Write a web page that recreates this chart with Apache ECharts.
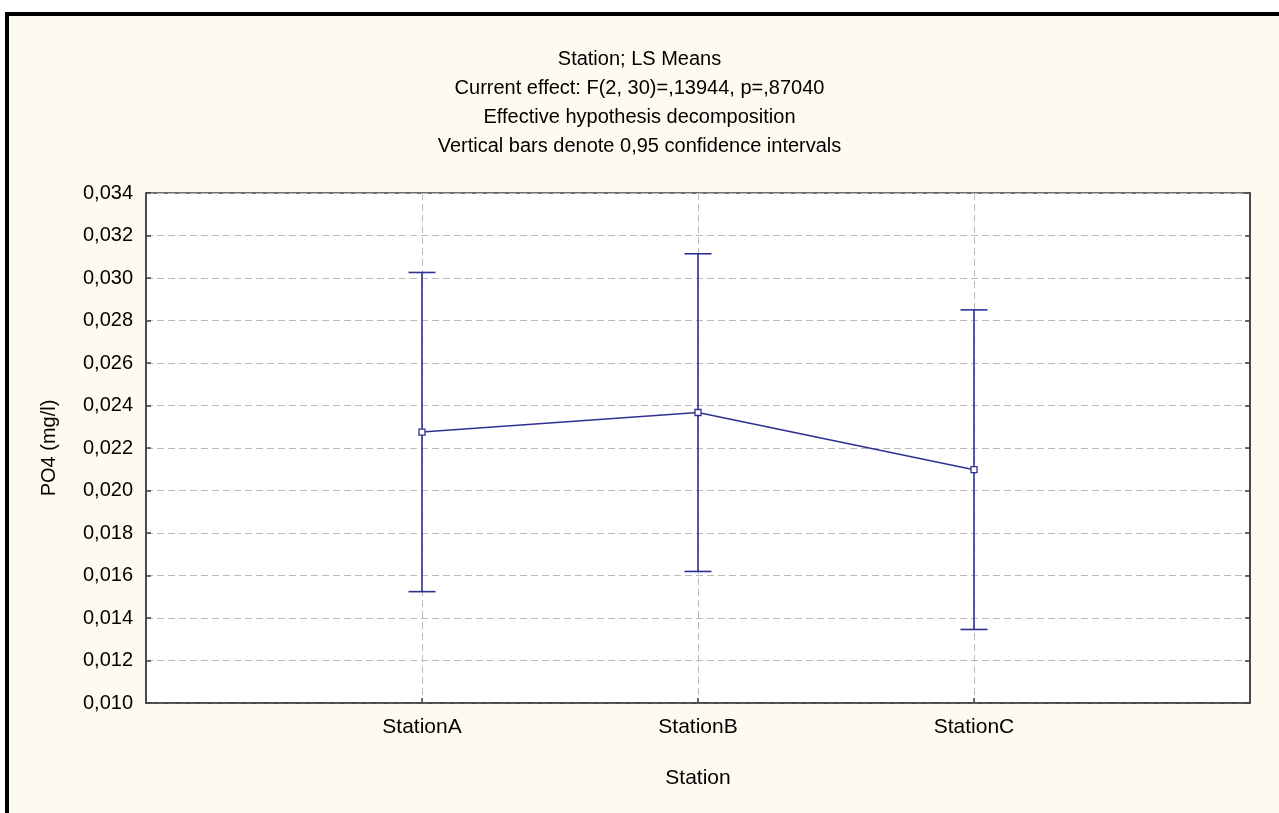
<!DOCTYPE html>
<html>
<head>
<meta charset="utf-8">
<script src="https://cdn.jsdelivr.net/npm/echarts@6/dist/echarts.min.js"></script>
<style>
html,body{margin:0;padding:0;background:#ffffff;}
#chart{width:1279px;height:813px;}
</style>
</head>
<body>
<div id="chart"></div>
<script>
// ---- data ----
var categories = ['StationA', 'StationB', 'StationC'];
var means = [0.02275, 0.02367, 0.02098];
var lowerCI = [0.01524, 0.01619, 0.01346];
var upperCI = [0.03026, 0.03114, 0.02850];
var yTicks = { min: 0.010, max: 0.034, step: 0.002 };
var titleLines = [
  'Station; LS Means',
  'Current effect: F(2, 30)=,13944, p=,87040',
  'Effective hypothesis decomposition',
  'Vertical bars denote 0,95 confidence intervals'
];
var yName = 'PO4 (mg/l)';
var xName = 'Station';

// ---- build ----
var axisCats = [''].concat(categories).concat(['']);
var navy = '#2E3192';
var font = 'Liberation Sans, Arial, sans-serif';

var lineData = categories.map(function (c, i) { return [c, means[i]]; });
var errData = categories.map(function (c, i) { return [c, lowerCI[i], upperCI[i]]; });

var chart = echarts.init(document.getElementById('chart'), null, { renderer: 'canvas' });

function fmt(v) { return v.toFixed(3).replace('.', ','); }
function showCat(index, value) { return value !== ''; }

var titles = titleLines.map(function (t, i) {
  return {
    text: t,
    left: 'center',
    top: 49 + i * 29,
    padding: 0,
    textStyle: { fontFamily: font, fontSize: 20, fontWeight: 'normal', color: '#000' }
  };
});

var option = {
  backgroundColor: '#ffffff',
  animation: false,
  graphic: [
    { type: 'rect', shape: { x: 9, y: 16, width: 1270, height: 797 }, style: { fill: '#FFFAEF' }, z: -10, silent: true },
    { type: 'rect', shape: { x: 5, y: 12, width: 1274, height: 4 }, style: { fill: '#000000' }, z: -9, silent: true },
    { type: 'rect', shape: { x: 5, y: 12, width: 4, height: 801 }, style: { fill: '#000000' }, z: -9, silent: true }
  ],
  title: titles,
  grid: {
    left: 146, right: 29, top: 193, bottom: 110,
    show: true, backgroundColor: '#ffffff', borderColor: '#404040', borderWidth: 1.5
  },
  xAxis: {
    type: 'category',
    data: axisCats,
    boundaryGap: false,
    name: xName,
    nameLocation: 'middle',
    nameGap: 65,
    nameTextStyle: { fontFamily: font, fontSize: 21, color: '#000' },
    axisLine: { show: true, lineStyle: { color: '#404040', width: 1.5 } },
    axisTick: { show: true, inside: true, length: 5, interval: showCat, lineStyle: { color: '#404040', width: 1.5 } },
    axisLabel: { show: true, interval: showCat, margin: 14, fontFamily: font, fontSize: 21, color: '#000' },
    splitLine: { show: true, interval: showCat, lineStyle: { color: '#BBBBBB', type: [7, 4], width: 1 } }
  },
  yAxis: [
    {
      type: 'value',
      min: yTicks.min, max: yTicks.max, interval: yTicks.step,
      name: yName,
      nameLocation: 'middle',
      nameRotate: 90,
      nameGap: 87,
      nameTextStyle: { fontFamily: font, fontSize: 20, color: '#000' },
      axisLine: { show: true, lineStyle: { color: '#404040', width: 1.5 } },
      axisTick: { show: true, inside: true, length: 5, lineStyle: { color: '#404040', width: 1.5 } },
      axisLabel: { margin: 13, fontFamily: font, fontSize: 20, color: '#000', formatter: fmt },
      splitLine: { show: true, lineStyle: { color: '#BBBBBB', type: [7, 4], width: 1 } }
    },
    {
      type: 'value',
      position: 'right',
      min: yTicks.min, max: yTicks.max, interval: yTicks.step,
      axisLine: { show: true, lineStyle: { color: '#404040', width: 1.5 } },
      axisTick: { show: true, inside: true, length: 5, lineStyle: { color: '#404040', width: 1.5 } },
      axisLabel: { show: false },
      splitLine: { show: false }
    }
  ],
  series: [
    {
      type: 'custom',
      name: 'CI',
      data: errData,
      encode: { x: 0, y: [1, 2] },
      z: 3,
      renderItem: function (params, api) {
        var x = api.value(0);
        var lo = api.coord([x, api.value(1)]);
        var hi = api.coord([x, api.value(2)]);
        var hw = 13.5;
        var st = { stroke: navy, lineWidth: 1.6, fill: null };
        return {
          type: 'group',
          children: [
            { type: 'line', shape: { x1: lo[0], y1: lo[1], x2: hi[0], y2: hi[1] }, style: st },
            { type: 'line', shape: { x1: hi[0] - hw, y1: hi[1], x2: hi[0] + hw, y2: hi[1] }, style: st },
            { type: 'line', shape: { x1: lo[0] - hw, y1: lo[1], x2: lo[0] + hw, y2: lo[1] }, style: st }
          ]
        };
      }
    },
    {
      type: 'line',
      name: 'Mean',
      data: lineData,
      z: 4,
      symbol: 'rect',
      symbolSize: 6,
      showAllSymbol: true,
      lineStyle: { color: navy, width: 1.6 },
      itemStyle: { color: '#ffffff', borderColor: navy, borderWidth: 1.3 }
    }
  ]
};
chart.setOption(option);
</script>
</body>
</html>
